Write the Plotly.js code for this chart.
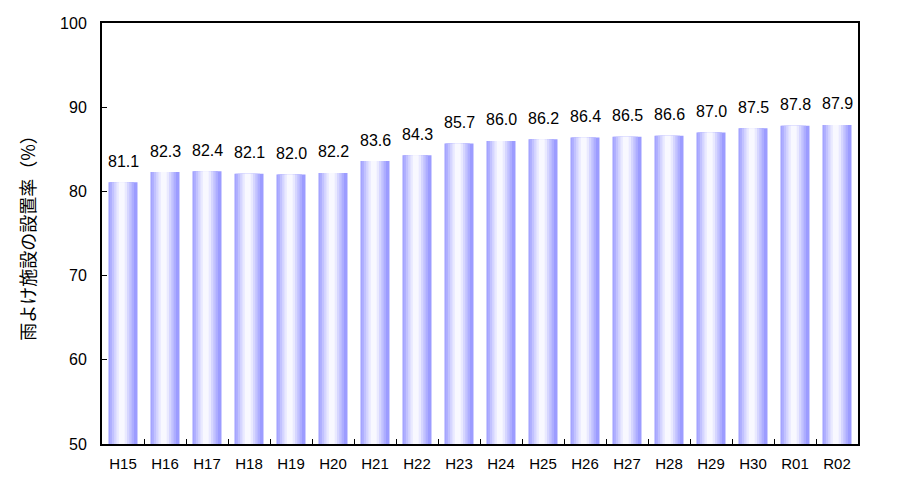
<!DOCTYPE html>
<html><head><meta charset="utf-8">
<script src="https://cdn.plot.ly/plotly-3.0.1.min.js"></script>
<style>body{margin:0;background:#fff}#c{width:900px;height:491px}</style>
</head><body><div id="c"></div>
<script>
const categories = ["H15","H16","H17","H18","H19","H20","H21","H22","H23","H24","H25","H26","H27","H28","H29","H30","R01","R02"];
const rates = [81.1,82.3,82.4,82.1,82.0,82.2,83.6,84.3,85.7,86.0,86.2,86.4,86.5,86.6,87.0,87.5,87.8,87.9];
const yTicks = [50,60,70,80,90,100];
const yTitle = "雨よけ施設の設置率（%）";

const font = "'Liberation Sans', Arial, sans-serif";
const layers = [
  {w:0.69, c:"#9C9CFF"},
  {w:0.58, c:"#AEAEFF"},
  {w:0.47, c:"#C2C2FF"},
  {w:0.36, c:"#D6D6FF"},
  {w:0.25, c:"#E9E9FF"},
  {w:0.14, c:"#F8F8FF"}
];
const traces = layers.map((L,i)=>({
  type:"bar", x:categories, y:rates,
  width:L.w, offset: i===0 ? -L.w/2 : -L.w/2 - 0.03,
  marker:{color:L.c, line:{width:0}},
  hoverinfo:"skip", showlegend:false
}));
const annotations = categories.map((c,i)=>({
  x:c, y:rates[i], xref:"x", yref:"y", text:rates[i].toFixed(1),
  showarrow:false, yanchor:"middle", yshift:21,
  font:{family:font, size:16, color:"#000"}
}));

Plotly.newPlot("c", traces, {
  width:900, height:491,
  margin:{l:102, r:42, t:23, b:47},
  barmode:"overlay",
  paper_bgcolor:"#fff", plot_bgcolor:"#fff",
  annotations:annotations,
  xaxis:{type:"category", showline:true, linecolor:"#000", linewidth:2, mirror:true,
    ticks:"inside", tickson:"boundaries", ticklen:5, tickcolor:"#000",
    tickfont:{family:font, size:15, color:"#000"}, showgrid:false, ticklabelstandoff:5},
  yaxis:{range:[50,100], tickvals:yTicks,
    showline:true, linecolor:"#000", linewidth:2, mirror:true,
    ticks:"inside", ticklen:5, tickcolor:"#000", showgrid:false, zeroline:false,
    tickfont:{family:font, size:16, color:"#000"}, ticklabelstandoff:10,
    title:{text:yTitle, font:{family:"'Noto Sans CJK JP', sans-serif", size:18, color:"#000"}, standoff:20}},
  font:{family:font}
}, {staticPlot:true});
</script></body></html>
